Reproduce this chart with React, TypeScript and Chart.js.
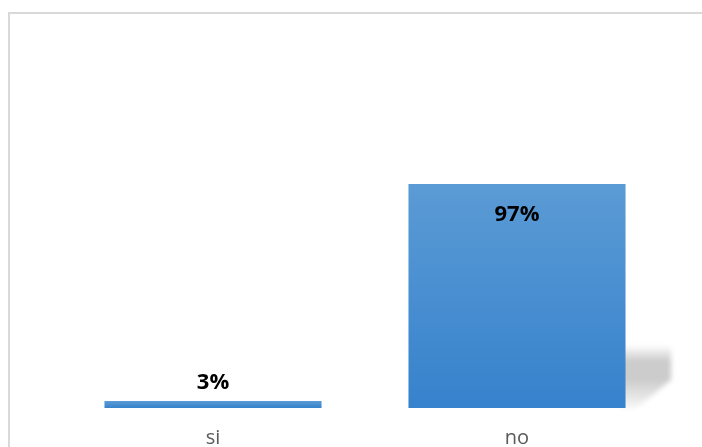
import React, { useEffect, useRef } from "react";
import { Chart, registerables } from "chart.js";

Chart.register(...registerables);

const categories = ["si", "no"];
const values = [3, 97];
const valueLabels = ["3%", "97%"];

const framePlugin = {
  id: "frame",
  beforeDraw(chart: any) {
    const { ctx, width, height } = chart;
    ctx.save();
    ctx.strokeStyle = "#d9d9d9";
    ctx.lineWidth = 2;
    ctx.beginPath();
    ctx.moveTo(9, height);
    ctx.lineTo(9, 13);
    ctx.lineTo(width, 13);
    ctx.stroke();
    ctx.restore();
  },
};

const shadowPlugin = {
  id: "barShadow",
  beforeDatasetsDraw(chart: any) {
    const { ctx } = chart;
    const meta = chart.getDatasetMeta(0);
    meta.data.forEach((bar: any) => {
      const h = bar.base - bar.y;
      if (h < 30) return;
      const x0 = bar.x + bar.width / 2;
      const base = bar.base;
      const sTop = base - 0.28 * h;
      const sw = 0.21 * bar.width;
      ctx.save();
      ctx.filter = "blur(2.5px)";
      const g = ctx.createLinearGradient(0, sTop, 0, base);
      g.addColorStop(0, "rgba(0,0,0,0)");
      g.addColorStop(0.25, "rgba(0,0,0,0.2)");
      g.addColorStop(0.55, "rgba(0,0,0,0.2)");
      g.addColorStop(1, "rgba(0,0,0,0.03)");
      ctx.fillStyle = g;
      ctx.beginPath();
      ctx.moveTo(x0 - 5, sTop);
      ctx.lineTo(x0 + sw, sTop);
      ctx.lineTo(x0 + sw, base - 0.45 * (base - sTop));
      ctx.lineTo(x0 + sw * 0.25, base);
      ctx.lineTo(x0 - 5, base);
      ctx.closePath();
      ctx.fill();
      ctx.restore();
    });
  },
};

const labelPlugin = {
  id: "valueLabels",
  afterDatasetsDraw(chart: any) {
    const { ctx } = chart;
    const meta = chart.getDatasetMeta(0);
    ctx.save();
    ctx.font = "bold 22px 'Open Sans'";
    ctx.fillStyle = "#000000";
    ctx.textAlign = "center";
    ctx.textBaseline = "alphabetic";
    meta.data.forEach((bar: any, i: number) => {
      const h = bar.base - bar.y;
      const y = h > 60 ? bar.y + 37 : bar.y - 12;
      ctx.fillText(valueLabels[i], bar.x, y);
    });
    ctx.restore();
  },
};

export default function App() {
  const ref = useRef<HTMLCanvasElement | null>(null);
  useEffect(() => {
    if (!ref.current) return;
    const chart = new Chart(ref.current, {
      type: "bar",
      data: {
        labels: categories,
        datasets: [
          {
            data: values,
            backgroundColor: (c: any) => {
              const chart = c.chart;
              const ys = chart.scales?.y;
              if (!ys || c.parsed == null) return "#4a8fd2";
              const top = ys.getPixelForValue(c.parsed.y);
              const base = ys.getPixelForValue(0);
              if (!isFinite(top) || !isFinite(base) || base - top < 1) return "#4a8fd2";
              const g = chart.ctx.createLinearGradient(0, top, 0, base);
              g.addColorStop(0, "#5b9bd5");
              g.addColorStop(1, "#3682cc");
              return g;
            },
            borderWidth: 0,
            categoryPercentage: 1,
            barPercentage: 0.714,
          },
        ],
      },
      options: {
        animation: false,
        responsive: true,
        maintainAspectRatio: false,
        layout: { padding: { left: 61, right: 33, top: 177, bottom: 4 } },
        plugins: { legend: { display: false }, tooltip: { enabled: false } },
        scales: {
          x: {
            grid: { display: false, drawTicks: false },
            border: { display: false },
            ticks: {
              color: "#595959",
              font: { family: "'Open Sans'", size: 20 },
              padding: 18,
            },
          },
          y: {
            display: false,
            min: 0,
            max: 100,
          },
        },
      },
      plugins: [framePlugin, shadowPlugin, labelPlugin],
    });
    return () => chart.destroy();
  }, []);
  return (
    <div style={{ position: "fixed", left: 0, top: 0, width: 702, height: 472 }}>
      <canvas ref={ref} />
    </div>
  );
}
